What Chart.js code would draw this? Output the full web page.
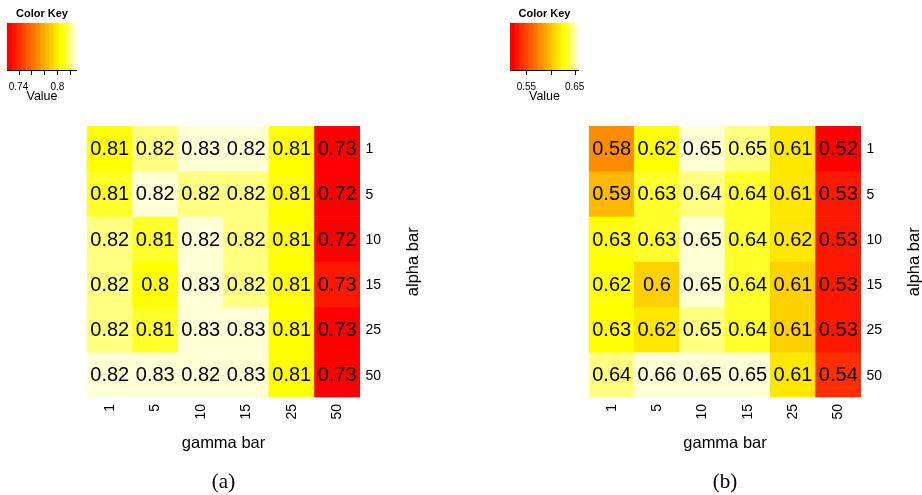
<!DOCTYPE html>
<html>
<head>
<meta charset="utf-8">
<script src="https://cdn.jsdelivr.net/npm/chart.js@4.4.1/dist/chart.umd.min.js"></script>
<style>
  html, body { margin: 0; padding: 0; background: #ffffff; }
  #page { position: relative; width: 922px; height: 495px; overflow: hidden; background: #ffffff; }
  canvas { position: absolute; }
</style>
</head>
<body>
<div id="page">
  <canvas id="heatA" width="461" height="495" style="left:0;top:0"></canvas>
  <canvas id="heatB" width="461" height="495" style="left:461px;top:0"></canvas>
  <canvas id="keyA" width="100" height="110" style="left:0;top:0"></canvas>
  <canvas id="keyB" width="100" height="110" style="left:503px;top:0"></canvas>
</div>
<script>
// gamma bar (columns) and alpha bar (rows)
const gammaBar = ['1', '5', '10', '15', '25', '50'];
const alphaBar = ['1', '5', '10', '15', '25', '50'];

// panel (a): one row per alpha bar value, one entry per gamma bar value
const scoresA = [
  [0.807, 0.819, 0.827, 0.824, 0.807, 0.727],
  [0.811, 0.824, 0.819, 0.818, 0.806, 0.7222],
  [0.817, 0.812, 0.824, 0.818, 0.807, 0.724],
  [0.817, 0.803, 0.8304, 0.819, 0.806, 0.732],
  [0.818, 0.812, 0.828, 0.826, 0.807, 0.728],
  [0.824, 0.827, 0.824, 0.826, 0.807, 0.729]
];

// panel (b)
const scoresB = [
  [0.578, 0.622, 0.652, 0.648, 0.613, 0.516],
  [0.594, 0.632, 0.642, 0.638, 0.612, 0.530],
  [0.629, 0.632, 0.652, 0.638, 0.617, 0.531],
  [0.622, 0.603, 0.654, 0.637, 0.608, 0.532],
  [0.628, 0.619, 0.648, 0.637, 0.609, 0.530],
  [0.642, 0.659, 0.651, 0.651, 0.613, 0.538]
];

// colour key tick marks and which of them carry a label
const keyTicksA = [0.74, 0.76, 0.78, 0.80, 0.82];
const keyLabelsA = ['0.74', '', '', '0.8', ''];
const keyTicksB = [0.55, 0.60, 0.65];
const keyLabelsB = ['0.55', '', '0.65'];

const captions = ['(a)', '(b)'];
const NBINS = 15;
const SANS = '"Liberation Sans", Arial, Helvetica, sans-serif';
const SERIF = '"Liberation Serif", "Times New Roman", serif';

// heat.colors palette: red -> yellow hues, then yellow fading toward white
function hsvToHex(h, s, v) {
  const i = Math.floor(h * 6), f = h * 6 - i;
  const p = v * (1 - s), q = v * (1 - f * s), t = v * (1 - (1 - f) * s);
  let r, g, b;
  switch (i % 6) {
    case 0: r = v; g = t; b = p; break;
    case 1: r = q; g = v; b = p; break;
    case 2: r = p; g = v; b = t; break;
    case 3: r = p; g = q; b = v; break;
    case 4: r = t; g = p; b = v; break;
    default: r = v; g = p; b = q;
  }
  const hx = x => Math.round(x * 255).toString(16).padStart(2, '0');
  return '#' + hx(r) + hx(g) + hx(b);
}
function heatColors(n) {
  const j = Math.floor(n / 4), i = n - j, out = [];
  for (let k = 0; k < i; k++) out.push(hsvToHex((k / (i - 1)) / 6, 1, 1));
  for (let k = 0; k < j; k++) {
    const s = (1 - 1 / (2 * j)) - k * ((1 - 1 / j) / (j - 1 || 1));
    out.push(hsvToHex(1 / 6, s, 1));
  }
  return out;
}
const palette = heatColors(NBINS);

function rangeOf(m) {
  const flat = m.flat();
  return [Math.min(...flat), Math.max(...flat)];
}
function colourFor(v, lo, hi) {
  const k = Math.min(NBINS - 1, Math.floor((v - lo) / (hi - lo) * NBINS));
  return palette[Math.max(0, k)];
}
function fmt(v) { return String(Math.round(v * 100) / 100); }

function heatmap(id, scores, caption, pad) {
  const [lo, hi] = rangeOf(scores);
  const datasets = alphaBar.map((a, r) => ({
    label: a,
    data: gammaBar.map(() => [r, r + 1]),
    values: scores[r],
    backgroundColor: scores[r].map(v => colourFor(v, lo, hi)),
    borderWidth: 0,
    grouped: false,
    barPercentage: 1,
    categoryPercentage: 1
  }));
  const labelsPlugin = {
    id: 'heatLabels',
    afterDatasetsDraw(chart) {
      const ctx = chart.ctx, area = chart.chartArea;
      const xs = chart.scales.x, ys = chart.scales.y;
      ctx.save();
      ctx.fillStyle = '#000000';
      // cell values
      ctx.font = '20px ' + SANS;
      ctx.textAlign = 'center';
      ctx.textBaseline = 'middle';
      chart.data.datasets.forEach((ds, r) => {
        chart.getDatasetMeta(r).data.forEach((el, c) => {
          ctx.fillText(fmt(ds.values[c]), el.x, (el.y + el.base) / 2 + 1);
        });
      });
      // alpha bar tick labels on the right
      ctx.font = '14px ' + SANS;
      ctx.textAlign = 'left';
      alphaBar.forEach((a, r) => {
        ctx.fillText(a, area.right + 5.5, ys.getPixelForValue(r + 0.5) + 1);
      });
      // gamma bar tick labels, rotated
      gammaBar.forEach((g, c) => {
        ctx.save();
        ctx.translate(xs.getPixelForValue(c), area.bottom + 6.5);
        ctx.rotate(-Math.PI / 2);
        ctx.textAlign = 'right';
        ctx.textBaseline = 'middle';
        ctx.fillText(g, 0, 0);
        ctx.restore();
      });
      // axis titles
      ctx.font = '16.5px ' + SANS;
      ctx.textAlign = 'center';
      ctx.textBaseline = 'alphabetic';
      ctx.fillText('gamma bar', (area.left + area.right) / 2, 448);
      ctx.save();
      ctx.translate(area.right + 53.5, (area.top + area.bottom) / 2);
      ctx.rotate(-Math.PI / 2);
      ctx.textBaseline = 'middle';
      ctx.fillText('alpha bar', 0, 0);
      ctx.restore();
      // panel caption
      ctx.font = '21px ' + SERIF;
      ctx.textBaseline = 'middle';
      ctx.fillText(caption, (area.left + area.right) / 2, 482);
      ctx.restore();
    }
  };
  return new Chart(document.getElementById(id), {
    type: 'bar',
    data: { labels: gammaBar, datasets },
    options: {
      responsive: false,
      animation: false,
      devicePixelRatio: 1,
      events: [],
      layout: { padding: pad },
      plugins: { legend: { display: false }, tooltip: { enabled: false } },
      scales: {
        x: { type: 'category', display: false },
        y: { type: 'linear', min: 0, max: alphaBar.length, reverse: true, display: false }
      }
    },
    plugins: [labelsPlugin]
  });
}

function colourKey(id, scores, ticks, tickLabels, pad) {
  const [lo, hi] = rangeOf(scores);
  const step = (hi - lo) / NBINS;
  const datasets = palette.map((col, k) => ({
    data: [[lo + k * step, lo + (k + 1) * step]],
    backgroundColor: col,
    borderWidth: 0,
    grouped: false,
    barPercentage: 1,
    categoryPercentage: 1
  }));
  const keyPlugin = {
    id: 'keyAxis',
    afterDatasetsDraw(chart) {
      const ctx = chart.ctx, area = chart.chartArea, xs = chart.scales.x;
      const cx = (area.left + area.right) / 2;
      ctx.save();
      ctx.fillStyle = '#000000';
      ctx.strokeStyle = '#000000';
      ctx.lineWidth = 1;
      ctx.beginPath();
      ctx.moveTo(area.left, area.bottom + 0.5);
      ctx.lineTo(area.right, area.bottom + 0.5);
      ticks.forEach(t => {
        const x = Math.round(xs.getPixelForValue(t)) + 0.5;
        ctx.moveTo(x, area.bottom);
        ctx.lineTo(x, area.bottom + 5);
      });
      ctx.stroke();
      ctx.font = '10px ' + SANS;
      ctx.textAlign = 'center';
      ctx.textBaseline = 'middle';
      ticks.forEach((t, i) => {
        if (tickLabels[i]) ctx.fillText(tickLabels[i], xs.getPixelForValue(t), 87);
      });
      ctx.font = '12.5px ' + SANS;
      ctx.fillText('Value', cx, 96.5);
      ctx.font = 'bold 11px ' + SANS;
      ctx.fillText('Color Key', cx, 14);
      ctx.restore();
    }
  };
  return new Chart(document.getElementById(id), {
    type: 'bar',
    data: { labels: ['Value'], datasets },
    options: {
      indexAxis: 'y',
      responsive: false,
      animation: false,
      devicePixelRatio: 1,
      events: [],
      layout: { padding: pad },
      plugins: { legend: { display: false }, tooltip: { enabled: false } },
      scales: {
        x: { type: 'linear', min: lo, max: hi, display: false },
        y: { type: 'category', display: false }
      }
    },
    plugins: [keyPlugin]
  });
}

heatmap('heatA', scoresA, captions[0], { left: 87, top: 126, right: 101, bottom: 97.5 });
heatmap('heatB', scoresB, captions[1], { left: 128, top: 126, right: 61, bottom: 97.5 });
colourKey('keyA', scoresA, keyTicksA, keyLabelsA, { left: 7, top: 23, right: 23, bottom: 40 });
colourKey('keyB', scoresB, keyTicksB, keyLabelsB, { left: 7, top: 23, right: 24, bottom: 40 });
</script>
</body>
</html>
